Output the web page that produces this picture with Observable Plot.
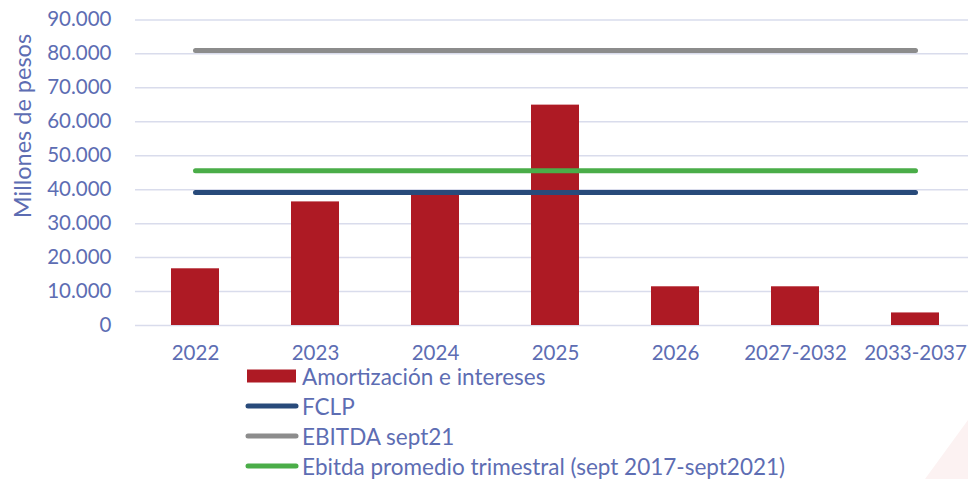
<!DOCTYPE html>
<html>
<head>
<meta charset="utf-8">
<script src="https://cdn.jsdelivr.net/npm/d3@7"></script>
<script src="https://cdn.jsdelivr.net/npm/@observablehq/plot@0.6"></script>
<style>
  html, body { margin: 0; padding: 0; background: #ffffff; }
  body { width: 968px; height: 479px; overflow: hidden; position: relative; font-family: Lato, "Open Sans", sans-serif; }
  #deco { position: absolute; left: 0; top: 0; width: 968px; height: 479px; background: #fcf2f2; clip-path: polygon(925px 479px, 968px 420px, 968px 479px); }
  #chart { position: absolute; left: 0; top: 0; }
  #ytitle { position: absolute; left: 22px; top: 126px; transform: translate(-50%, -50%) rotate(-90deg); white-space: nowrap; color: #5d6db3; font-size: 23.5px; }
  #legend { position: absolute; left: 245px; top: 361px; color: #5d6db3; font-size: 22.5px; }
  .item { height: 30px; display: flex; align-items: center; }
  .item svg { margin-right: 3px; flex: none; }
</style>
</head>
<body>
<div id="deco"></div>
<div id="chart"></div>
<div id="ytitle"></div>
<div id="legend"></div>
<script>
const categories = ["2022", "2023", "2024", "2025", "2026", "2027-2032", "2033-2037"];
const amortizacion = [16700, 36400, 38900, 64900, 11400, 11400, 3700];
const barName = "Amortización e intereses";
const lineNames = ["FCLP", "EBITDA sept21", "Ebitda promedio trimestral (sept 2017-sept2021)"];
const lineValues = [39200, 81000, 45600];
const lineColors = ["#284a7a", "#8c8c8c", "#4aad48"];
const barColor = "#ae1a24";
const yTicks = [0, 10000, 20000, 30000, 40000, 50000, 60000, 70000, 80000, 90000];
const yTitle = "Millones de pesos";

const textColor = "#5d6db3";
const loc = d3.formatLocale({decimal: ",", thousands: ".", grouping: [3], currency: ["$", ""]});
const fmt = loc.format(",");

const bars = categories.map((c, i) => ({cat: c, value: amortizacion[i]}));
const lines = lineNames.flatMap((n, i) => [
  {name: n, cat: categories[0], value: lineValues[i], color: lineColors[i]},
  {name: n, cat: categories[categories.length - 1], value: lineValues[i], color: lineColors[i]}
]);

const chart = Plot.plot({
  width: 968,
  height: 365,
  marginLeft: 135,
  marginRight: 0,
  marginTop: 19,
  marginBottom: 40,
  style: {fontFamily: "Lato, 'Open Sans', sans-serif", fontSize: "20.5px", color: textColor, background: "transparent"},
  x: {domain: categories, range: [135, 975], paddingInner: 0.6, paddingOuter: 0.3, label: null},
  y: {domain: [0, 90000], range: [325, 19.4], label: null},
  marks: [
    Plot.gridY(yTicks, {stroke: "#d9dcec", strokeOpacity: 1, strokeWidth: 1.5}),
    Plot.barY(bars, {x: "cat", y: "value", fill: barColor}),
    Plot.line(lines, {x: "cat", y: "value", z: "name", stroke: "color", strokeWidth: 5, strokeLinecap: "round"}),
    Plot.axisY(yTicks, {tickSize: 0, tickPadding: 24, tickFormat: d => d === 0 ? "0" : fmt(d), fill: textColor, label: null}),
    Plot.axisX({tickSize: 0, tickPadding: 20, fill: textColor, label: null})
  ]
});
document.getElementById("chart").appendChild(chart);
document.getElementById("ytitle").textContent = yTitle;

// Legend
const legend = document.getElementById("legend");
function addItem(name, swatch) {
  const d = document.createElement("div");
  d.className = "item";
  d.innerHTML = swatch + `<span>${name}</span>`;
  legend.appendChild(d);
}
addItem(barName, `<svg width="54" height="14"><rect x="2" y="0.5" width="49" height="13" fill="${barColor}"/></svg>`);
lineNames.forEach((n, i) => {
  addItem(n, `<svg width="54" height="10"><line x1="3" y1="5" x2="51" y2="5" stroke="${lineColors[i]}" stroke-width="5" stroke-linecap="round"/></svg>`);
});
</script>
</body>
</html>
